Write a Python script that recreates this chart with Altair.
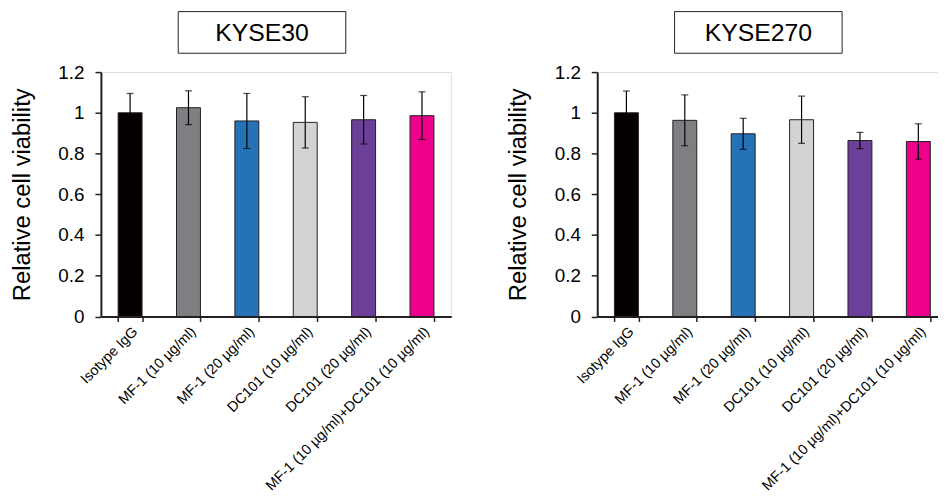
import altair as alt
import pandas as pd

categories = [
    "Isotype IgG",
    "MF-1 (10 µg/ml)",
    "MF-1 (20 µg/ml)",
    "DC101 (10 µg/ml)",
    "DC101 (20 µg/ml)",
    "MF-1 (10 µg/ml)+DC101 (10 µg/ml)",
]
bar_colors = ["#050000", "#7f7f83", "#2672b9", "#d1d3d4", "#6c3f98", "#ec008c"]

kyse30_mean = [1.000, 1.025, 0.960, 0.953, 0.966, 0.986]
kyse30_sd = [0.095, 0.083, 0.135, 0.126, 0.119, 0.117]

kyse270_mean = [1.000, 0.963, 0.897, 0.966, 0.864, 0.859]
kyse270_sd = [0.107, 0.125, 0.076, 0.116, 0.040, 0.087]

panel_titles = ["KYSE30", "KYSE270"]
y_ticks = [0, 0.2, 0.4, 0.6, 0.8, 1, 1.2]

FONT = "Liberation Sans"
INK = "#231f20"
YTITLE = "Relative cell viability"


def panel(title, means, sds):
    df = pd.DataFrame({"cat": categories, "mean": means, "sd": sds})
    df["lo"] = df["mean"] - df["sd"]
    df["hi"] = df["mean"] + df["sd"]

    xenc = alt.X(
        "cat:N",
        sort=categories,
        scale=alt.Scale(paddingInner=0.59, paddingOuter=0.295),
        axis=alt.Axis(
            title=None,
            labelAngle=-45,
            labelFontSize=14.5,
            labelFont=FONT,
            labelColor="black",
            labelPadding=3,
            tickBand="extent",
            tickSize=5,
            tickWidth=1.5,
            tickColor=INK,
            domainColor=INK,
            domainWidth=2,
            labelLimit=400,
        ),
    )
    yscale = alt.Scale(domain=[0, 1.2], nice=False)
    yaxis = alt.Axis(
        values=y_ticks,
        format="~g",
        grid=False,
        labelFontSize=19,
        labelFont=FONT,
        labelColor="black",
        labelPadding=11,
        tickSize=6,
        tickWidth=1.5,
        tickColor=INK,
        domainColor=INK,
        domainWidth=2,
        titleFontSize=24,
        titleFont=FONT,
        titleFontWeight="normal",
        titleColor="black",
        titlePadding=24,
    )

    bars = alt.Chart(df).mark_bar(stroke=INK, strokeWidth=1).encode(
        x=xenc,
        y=alt.Y("mean:Q", scale=yscale, axis=yaxis, title=YTITLE),
        color=alt.Color(
            "cat:N", scale=alt.Scale(domain=categories, range=bar_colors), legend=None
        ),
    )
    rule = alt.Chart(df).mark_rule(color="black", strokeWidth=1.2).encode(
        x=alt.X("cat:N", sort=categories),
        y=alt.Y("lo:Q", title=YTITLE),
        y2="hi:Q",
    )
    cap_hi = alt.Chart(df).mark_tick(color="black", size=7, thickness=1.2).encode(
        x=alt.X("cat:N", sort=categories),
        y=alt.Y("hi:Q", title=YTITLE),
    )
    cap_lo = alt.Chart(df).mark_tick(color="black", size=7, thickness=1.2).encode(
        x=alt.X("cat:N", sort=categories),
        y=alt.Y("lo:Q", title=YTITLE),
    )
    tdf = pd.DataFrame({"t": [title]})
    box = alt.Chart(tdf).mark_rect(fill="white", stroke=INK, strokeWidth=1).encode(
        x=alt.value(78), x2=alt.value(247), y=alt.value(-61), y2=alt.value(-19)
    )
    txt = alt.Chart(tdf).mark_text(
        font=FONT, fontSize=25, color="black", align="center", baseline="middle"
    ).encode(x=alt.value(162.5), y=alt.value(-39.5), text="t:N")

    return alt.layer(bars, rule, cap_hi, cap_lo, box, txt).properties(
        width=353.3, height=246.5
    )


left = panel(panel_titles[0], kyse30_mean, kyse30_sd)
right = panel(panel_titles[1], kyse270_mean, kyse270_sd)

chart = (
    alt.hconcat(left, right, spacing=54.6)
    .resolve_scale(color="independent")
    .properties(
        autosize=alt.AutoSizeParams(type="none"),
        padding={"left": 93.7, "top": 61.5, "right": 844.3, "bottom": 418.5},
    )
    .configure_view(stroke="transparent", strokeWidth=0)
    .configure(background="white")
)

chart.save("out.html", embed_options={"renderer": "svg", "actions": False})
